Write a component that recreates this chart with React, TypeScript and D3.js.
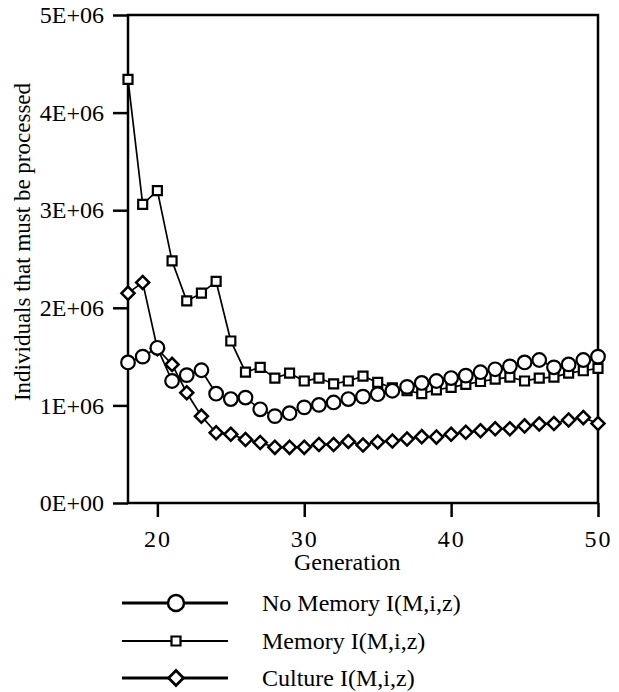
import { useEffect, useRef } from "react";
import * as d3 from "d3";

// generations on the x axis
const generations = [
  18, 19, 20, 21, 22, 23, 24, 25, 26, 27, 28, 29, 30, 31, 32, 33, 34, 35, 36,
  37, 38, 39, 40, 41, 42, 43, 44, 45, 46, 47, 48, 49, 50,
];

// values (individuals processed)
const noMemory = [
  1440000, 1500000, 1590000, 1250000, 1310000, 1360000, 1120000, 1065000,
  1080000, 960000, 890000, 920000, 980000, 1005000, 1030000, 1065000, 1090000,
  1115000, 1150000, 1190000, 1230000, 1250000, 1280000, 1305000, 1340000,
  1370000, 1400000, 1440000, 1465000, 1390000, 1420000, 1465000, 1500000,
];
const memory = [
  4340000, 3060000, 3200000, 2480000, 2070000, 2150000, 2270000, 1660000,
  1340000, 1390000, 1280000, 1330000, 1250000, 1280000, 1220000, 1250000,
  1300000, 1235000, 1180000, 1150000, 1120000, 1160000, 1185000, 1215000,
  1245000, 1270000, 1290000, 1250000, 1280000, 1290000, 1330000, 1355000,
  1380000,
];
const culture = [
  2150000, 2260000, 1580000, 1420000, 1130000, 890000, 720000, 705000, 650000,
  620000, 570000, 570000, 570000, 600000, 600000, 630000, 595000, 625000,
  635000, 655000, 680000, 675000, 705000, 725000, 740000, 760000, 760000,
  790000, 810000, 815000, 850000, 875000, 815000,
];

const xTicks = [20, 30, 40, 50];
const yTicks = [0, 1000000, 2000000, 3000000, 4000000, 5000000];
const yTickLabels = ["0E+00", "1E+06", "2E+06", "3E+06", "4E+06", "5E+06"];

const legendNames = ["No Memory I(M,i,z)", "Memory I(M,i,z)", "Culture I(M,i,z)"];

function App() {
  const ref = useRef<SVGSVGElement>(null);

  useEffect(() => {
    const W = 619,
      H = 692;
    const margin = { top: 15, left: 128, right: 21, bottom: 189 };
    const width = W - margin.left - margin.right;
    const height = H - margin.top - margin.bottom;
    const font = "'Liberation Serif', 'Times New Roman', serif";

    const root = d3.select(ref.current);
    root.selectAll("*").remove();
    root.attr("width", W).attr("height", H);

    const svg = root
      .append("g")
      .attr("transform", `translate(${margin.left},${margin.top})`);

    const x = d3.scaleLinear().domain([18, 50]).range([0, width]);
    const y = d3.scaleLinear().domain([0, 5000000]).range([height, 0]);

    // frame
    svg
      .append("rect")
      .attr("width", width)
      .attr("height", height)
      .attr("fill", "none")
      .attr("stroke", "#000")
      .attr("stroke-width", 2.5);

    // y axis
    const yAxis = svg
      .append("g")
      .call(
        d3
          .axisLeft(y)
          .tickValues(yTicks)
          .tickSize(15)
          .tickPadding(9)
          .tickFormat((d, i) => yTickLabels[i])
      );
    yAxis.select(".domain").remove();
    yAxis.selectAll("line").attr("stroke-width", 2.5);
    yAxis
      .selectAll("text")
      .style("font-family", font)
      .style("font-size", "24px")
      .attr("fill", "#000");

    // x axis
    const xAxis = svg
      .append("g")
      .attr("transform", `translate(0,${height})`)
      .call(
        d3.axisBottom(x).tickValues(xTicks).tickSize(14).tickPadding(13).tickFormat(d3.format("d"))
      );
    xAxis.select(".domain").remove();
    xAxis.selectAll("line").attr("stroke-width", 2.5);
    xAxis
      .selectAll("text")
      .style("font-family", font)
      .style("font-size", "24px")
      .style("letter-spacing", "2px")
      .attr("fill", "#000");

    // axis titles
    svg
      .append("text")
      .attr("x", x(30) + 43)
      .attr("y", height + 67)
      .attr("text-anchor", "middle")
      .style("font-family", font)
      .style("font-size", "24px")
      .text("Generation");

    svg
      .append("text")
      .attr("transform", `translate(${30 - margin.left},${242 - margin.top})rotate(-90)`)
      .attr("text-anchor", "middle")
      .style("font-family", font)
      .style("font-size", "23px")
      .text("Individuals that must be processed");

    const line = d3
      .line<number>()
      .x((d, i) => x(generations[i]))
      .y((d) => y(d));

    const square = d3.symbol(d3.symbolSquare, 81)();
    const diamond = d3.symbol(d3.symbolSquare, 85)();

    // memory (squares)
    svg
      .append("path")
      .datum(memory)
      .attr("fill", "none")
      .attr("stroke", "#000")
      .attr("stroke-width", 1.7)
      .attr("d", line);
    svg
      .selectAll(".sq")
      .data(memory)
      .join("path")
      .attr("class", "sq")
      .attr("d", square)
      .attr("transform", (d, i) => `translate(${x(generations[i])},${y(d)})`)
      .attr("fill", "#fff")
      .attr("stroke", "#000")
      .attr("stroke-width", 2.2);

    // culture (diamonds)
    svg
      .append("path")
      .datum(culture)
      .attr("fill", "none")
      .attr("stroke", "#000")
      .attr("stroke-width", 1.7)
      .attr("d", line);
    svg
      .selectAll(".dm")
      .data(culture)
      .join("path")
      .attr("class", "dm")
      .attr("d", diamond)
      .attr("transform", (d, i) => `translate(${x(generations[i])},${y(d)})rotate(45)`)
      .attr("fill", "#fff")
      .attr("stroke", "#000")
      .attr("stroke-width", 2.5);

    // no memory (circles)
    svg
      .append("path")
      .datum(noMemory)
      .attr("fill", "none")
      .attr("stroke", "#000")
      .attr("stroke-width", 1.7)
      .attr("d", line);
    svg
      .selectAll(".ci")
      .data(noMemory)
      .join("circle")
      .attr("class", "ci")
      .attr("cx", (d, i) => x(generations[i]))
      .attr("cy", (d) => y(d))
      .attr("r", 6.8)
      .attr("fill", "#fff")
      .attr("stroke", "#000")
      .attr("stroke-width", 2.2);

    // legend
    const legend = root.append("g");
    const rowY = [603, 641, 678];
    legendNames.forEach((name, i) => {
      const g = legend.append("g").attr("transform", `translate(0,${rowY[i]})`);
      g.append("line")
        .attr("x1", 122)
        .attr("x2", 228)
        .attr("stroke", "#000")
        .attr("stroke-width", i === 1 ? 2 : 2.8);
      if (i === 0) {
        g.append("circle")
          .attr("cx", 176)
          .attr("r", 8)
          .attr("fill", "#fff")
          .attr("stroke", "#000")
          .attr("stroke-width", 2.5);
      } else if (i === 1) {
        g.append("path")
          .attr("d", square)
          .attr("transform", "translate(176,0)")
          .attr("fill", "#fff")
          .attr("stroke", "#000")
          .attr("stroke-width", 2.2);
      } else {
        g.append("path")
          .attr("d", d3.symbol(d3.symbolSquare, 110)())
          .attr("transform", "translate(176,0)rotate(45)")
          .attr("fill", "#fff")
          .attr("stroke", "#000")
          .attr("stroke-width", 2.8);
      }
      g.append("text")
        .attr("x", 262)
        .attr("dy", "0.35em")
        .style("font-family", font)
        .style("font-size", "24px")
        .text(name);
    });
  }, []);

  return (
    <svg
      ref={ref}
      style={{ position: "absolute", left: 0, top: 0, background: "#fff" }}
    ></svg>
  );
}

export default App;
